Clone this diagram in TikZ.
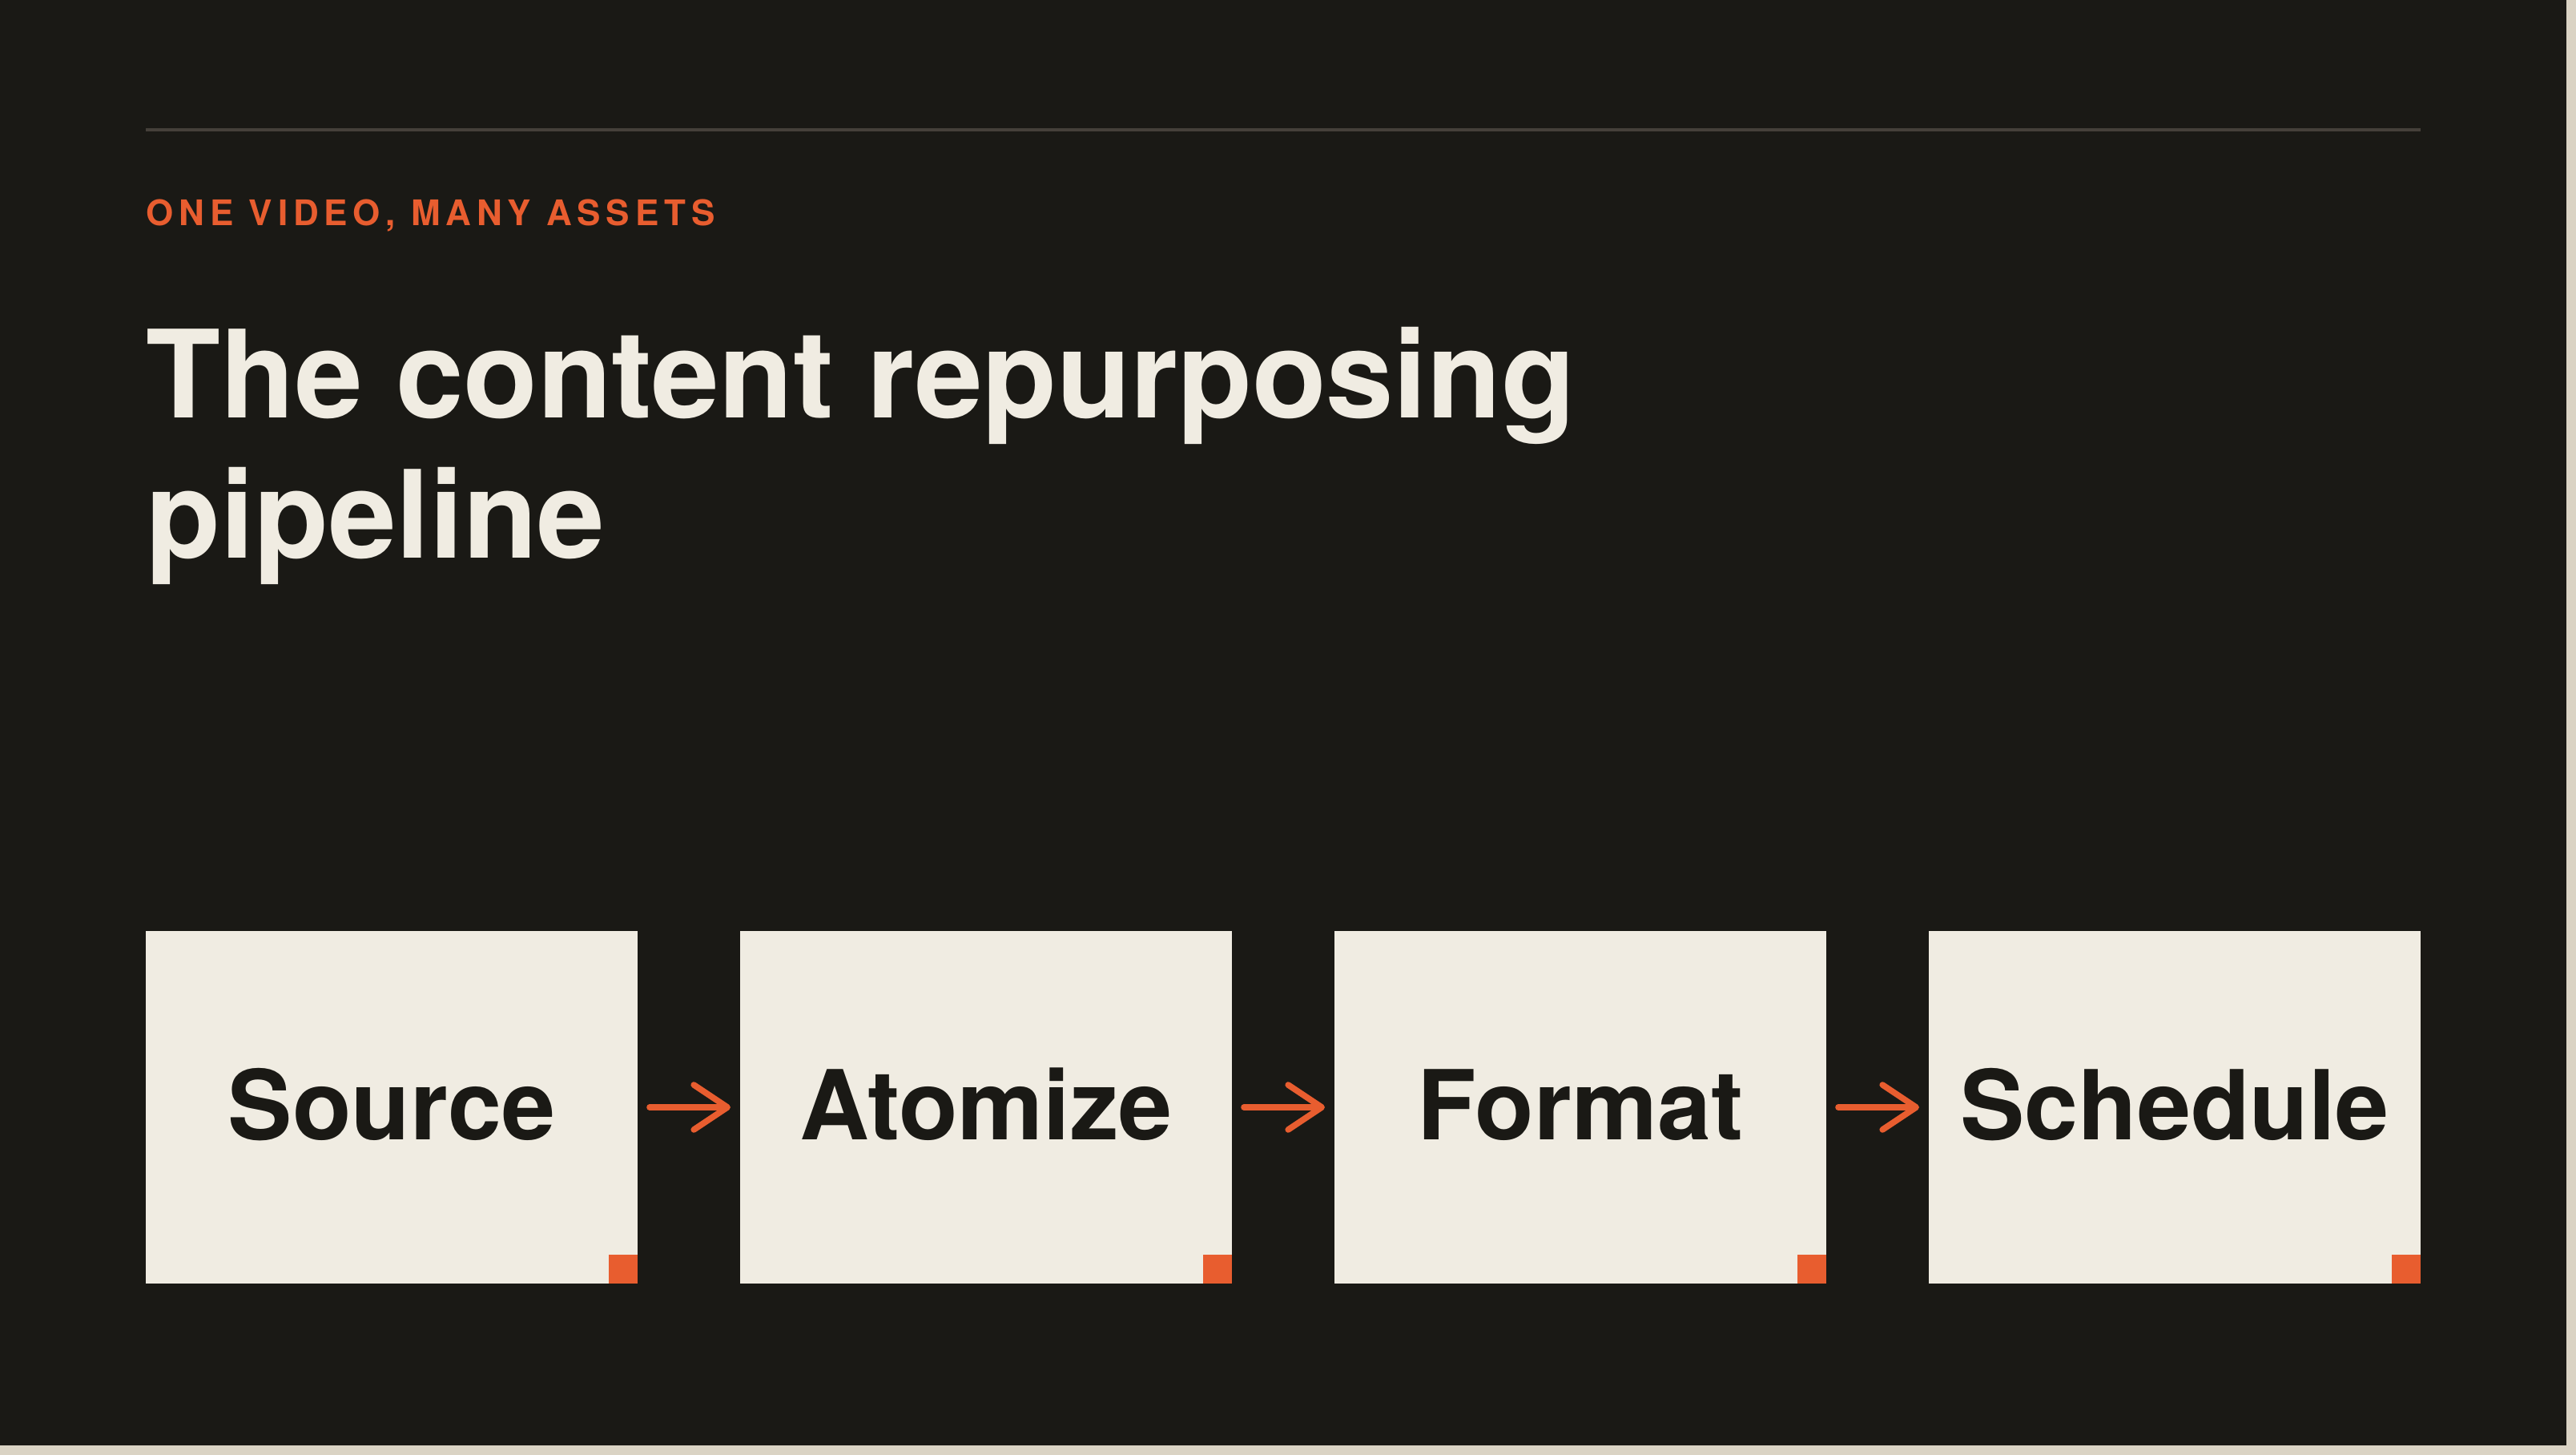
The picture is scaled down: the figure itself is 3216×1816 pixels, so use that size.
\documentclass[tikz,border=0pt]{standalone}
\usepackage{fontspec}
\setmainfont{TeX Gyre Heros}
\newfontfamily\titlefont[LetterSpace=-0.2]{TeX Gyre Heros Bold}
\newfontfamily\labelfont[LetterSpace=15.5]{TeX Gyre Heros Bold}
\newfontfamily\boxfont{TeX Gyre Heros Bold}
\usetikzlibrary{arrows.meta}
\definecolor{bgdark}{HTML}{1A1915}
\definecolor{edge}{HTML}{DAD3C4}
\definecolor{cream}{HTML}{F0ECE2}
\definecolor{accent}{HTML}{E85D2F}
\definecolor{rulecol}{HTML}{45403A}
\begin{document}
\begin{tikzpicture}[x=0.25pt,y=-0.25pt,
  stagebox/.style={fill=cream,draw=none,minimum width=153.5pt,minimum height=110pt,inner sep=0pt,outer sep=0pt,anchor=north west},
  stagetext/.style={font=\boxfont\fontsize{30.1}{36}\selectfont,text=bgdark,anchor=base,inner sep=0pt},
  flow/.style={draw=accent,line width=1.9pt,line cap=round,-{Straight Barb[length=10.5pt,width=14pt,line cap=round,line join=round]}},
  corner/.style={fill=accent,draw=none}]
\useasboundingbox (0,0) rectangle (3216,1816);
\fill[edge] (0,0) rectangle (3216,1816);
\fill[bgdark] (0,0) rectangle (3204,1804);
\draw[rulecol,line width=1pt] (182,162) -- (3022,162);
\node[anchor=base west,inner sep=0pt,text=accent,font=\labelfont\fontsize{11}{13}\selectfont] (kicker) at (182,282) {ONE VIDEO, MANY ASSETS};
\node[anchor=base west,inner sep=0pt,text=cream,font=\titlefont\fontsize{38}{44}\selectfont] (title1) at (182,522) {The content repurposing};
\node[anchor=base west,inner sep=0pt,text=cream,font=\titlefont\fontsize{38}{44}\selectfont] (title2) at (182,697) {pipeline};
\foreach \i/\x/\t in {1/182/Source,2/924/Atomize,3/1666/Format,4/2408/Schedule}{
  \node[stagebox] (b\i) at (\x,1162) {};
  \fill[corner] (\x+578,1566) rectangle (\x+614,1602);
  \node[stagetext] (t\i) at (\x+307,1423) {\t};
}
\draw[flow] ([xshift=3.75pt]b1.east) -- ([xshift=-3pt]b2.west);
\draw[flow] ([xshift=3.75pt]b2.east) -- ([xshift=-3pt]b3.west);
\draw[flow] ([xshift=3.75pt]b3.east) -- ([xshift=-3pt]b4.west);
\end{tikzpicture}
\end{document}
